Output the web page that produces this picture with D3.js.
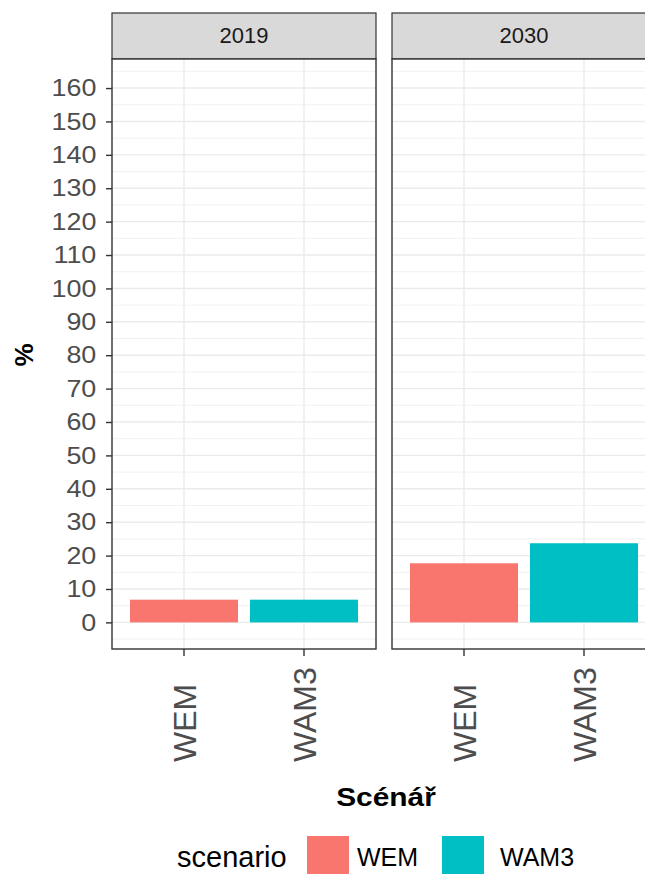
<!DOCTYPE html>
<html>
<head>
<meta charset="utf-8">
<script src="https://cdn.jsdelivr.net/npm/d3@7"></script>
<style>
  body { margin: 0; background: #fff; }
  svg { display: block; font-family: "Liberation Sans", Arial, sans-serif; }
</style>
</head>
<body>
<svg id="chart" width="645" height="874"></svg>
<script>
// ---- data ----
const years = ["2019", "2030"];
const scenarios = ["WEM", "WAM3"];
const wemValues = [6.8, 17.7];
const wam3Values = [6.8, 23.7];
const yTicks = [0, 10, 20, 30, 40, 50, 60, 70, 80, 90, 100, 110, 120, 130, 140, 150, 160];
const colors = { WEM: "#F8766D", WAM3: "#00BFC4" };

const svg = d3.select("#chart");

const panelW = 264, panelTop = 59, panelBottom = 649, stripTop = 13;
const panelX = [112, 392];

const y = d3.scaleLinear().domain([-7.97, 168.7]).range([panelBottom, panelTop]);
const x = d3.scaleBand().domain(scenarios).range([0, panelW]).paddingInner(0.1).paddingOuter(0.15);

const minorTicks = d3.range(-5, 170, 10);

years.forEach((yr, i) => {
  const g = svg.append("g").attr("transform", `translate(${panelX[i]},0)`);
  // strip
  g.append("rect").attr("x", 0).attr("y", stripTop).attr("width", panelW).attr("height", panelTop - stripTop)
    .attr("fill", "#d9d9d9").attr("stroke", "#333").attr("stroke-width", 1.2);
  g.append("text").attr("x", panelW / 2).attr("y", 43).attr("text-anchor", "middle")
    .attr("font-size", 22).attr("fill", "#1a1a1a").text(yr);
  // panel bg
  g.append("rect").attr("x", 0).attr("y", panelTop).attr("width", panelW).attr("height", panelBottom - panelTop).attr("fill", "#fff");
  // minor grid
  g.selectAll(".minor").data(minorTicks).join("line")
    .attr("x1", 0).attr("x2", panelW).attr("y1", d => y(d)).attr("y2", d => y(d))
    .attr("stroke", "#ebebeb").attr("stroke-width", 0.7);
  // major grid
  g.selectAll(".major").data(yTicks).join("line")
    .attr("x1", 0).attr("x2", panelW).attr("y1", d => y(d)).attr("y2", d => y(d))
    .attr("stroke", "#ebebeb").attr("stroke-width", 1.4);
  g.selectAll(".vmajor").data(scenarios).join("line")
    .attr("x1", d => x(d) + x.bandwidth() / 2).attr("x2", d => x(d) + x.bandwidth() / 2)
    .attr("y1", panelTop).attr("y2", panelBottom)
    .attr("stroke", "#ebebeb").attr("stroke-width", 1.4);
  // bars
  const vals = [wemValues[i], wam3Values[i]];
  g.selectAll(".bar").data(scenarios.map((s, j) => ({ s, v: vals[j] }))).join("rect")
    .attr("x", d => x(d.s)).attr("width", x.bandwidth())
    .attr("y", d => y(d.v)).attr("height", d => y(0) - y(d.v))
    .attr("fill", d => colors[d.s]);
  // border
  g.append("rect").attr("x", 0).attr("y", panelTop).attr("width", panelW).attr("height", panelBottom - panelTop)
    .attr("fill", "none").attr("stroke", "#333").attr("stroke-width", 1.4);
  // x axis
  const xa = g.append("g").attr("transform", `translate(0,${panelBottom})`)
    .call(d3.axisBottom(x).tickSize(7).tickSizeOuter(0));
  xa.select(".domain").remove();
  xa.selectAll(".tick line").attr("stroke", "#333").attr("stroke-width", 1.4);
  xa.selectAll(".tick text")
    .attr("x", 0).attr("y", 0).attr("dy", "0.36em")
    .attr("transform", "translate(0,113) rotate(-90)")
    .attr("text-anchor", "start")
    .attr("font-size", 32).attr("fill", "#4d4d4d")
    .attr("font-family", "'Liberation Sans', Arial, sans-serif");
});

// y axis
const ya = svg.append("g").attr("transform", `translate(${panelX[0]},0)`)
  .call(d3.axisLeft(y).tickValues(yTicks).tickSize(6).tickPadding(8).tickSizeOuter(0));
ya.select(".domain").remove();
ya.selectAll(".tick line").attr("stroke", "#333").attr("stroke-width", 1.4);
ya.selectAll(".tick text").attr("font-size", 24).attr("fill", "#4d4d4d")
  .attr("transform", "scale(1.12,1)")
  .attr("font-family", "'Liberation Sans', Arial, sans-serif");

// axis titles
svg.append("text").attr("transform", "translate(24,355) rotate(-90)")
  .attr("text-anchor", "middle").attr("dy", "0.35em")
  .attr("font-size", 26).attr("font-weight", "bold").attr("fill", "#000").text("%");
svg.append("text").attr("transform", "translate(386,806) scale(1.15,1)")
  .attr("text-anchor", "middle")
  .attr("font-size", 26).attr("font-weight", "bold").attr("fill", "#000").text("Scénář");

// legend
svg.append("text").attr("x", 177).attr("y", 867).attr("font-size", 29).attr("fill", "#000").text("scenario");
const legX = [307, 442], legLabelX = [357, 500];
scenarios.forEach((s, j) => {
  svg.append("rect").attr("x", legX[j]).attr("y", 836).attr("width", 42).attr("height", 42).attr("fill", colors[s]);
  svg.append("text").attr("x", legLabelX[j]).attr("y", 866).attr("font-size", 25).attr("fill", "#000").text(s);
});
</script>
</body>
</html>
